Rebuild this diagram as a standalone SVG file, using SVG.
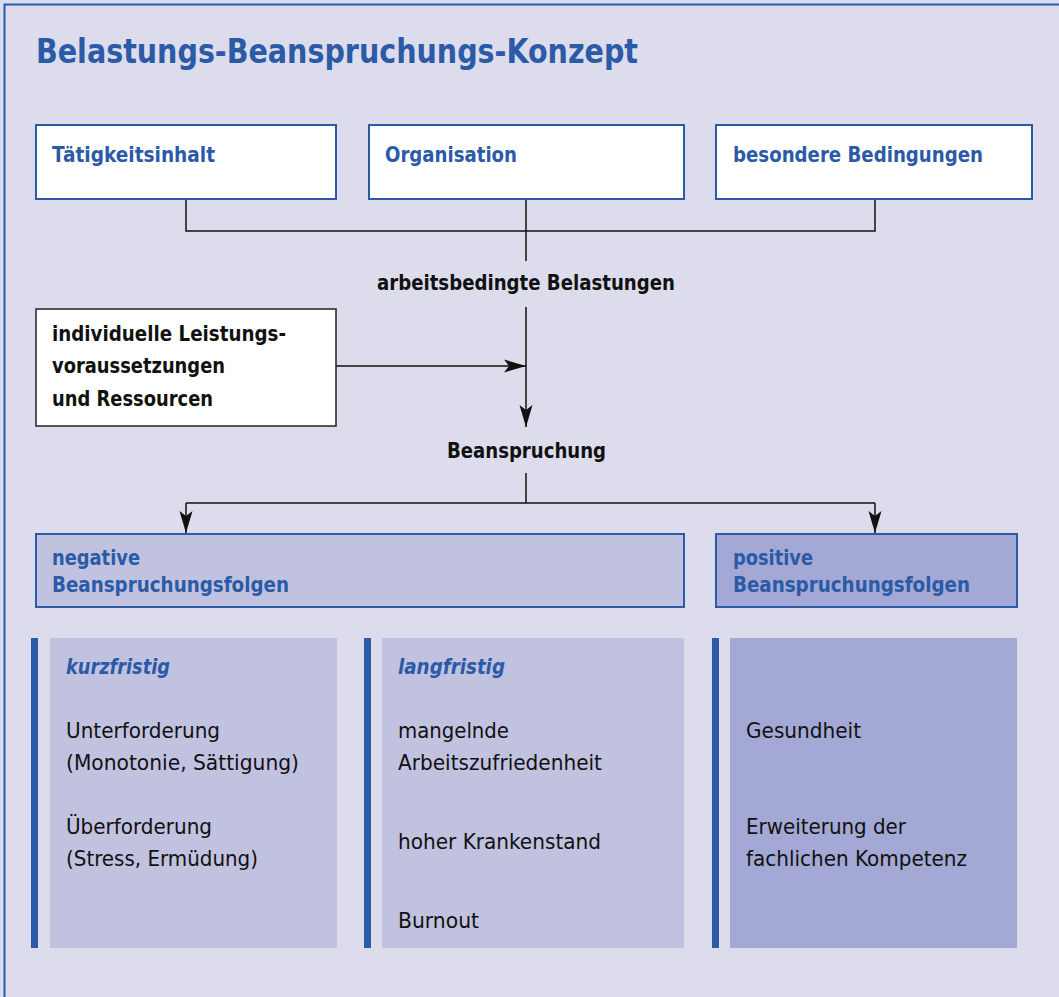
<svg xmlns="http://www.w3.org/2000/svg" width="1059" height="997" viewBox="0 0 1059 997">
<defs>
<style>
.t{font-family:"DejaVu Sans Condensed","DejaVu Sans",sans-serif;font-stretch:condensed}
.hb{font-weight:bold;fill:#2B5AA6;font-size:21px}
.kb{font-weight:bold;fill:#111;font-size:21px}
.bd{fill:#111;font-size:22px}
.it{font-weight:bold;font-style:italic;fill:#2B5AA6;font-size:22px}
.wbox{fill:#fff;stroke:#2B5AA6;stroke-width:2}
.conn{fill:none;stroke:#111;stroke-width:1.5}
.bar{fill:#2B5AA6}
.mid{fill:#C1C2E0}
.dark{fill:#A3A8D4}
</style>
<marker id="ah" markerUnits="userSpaceOnUse" markerWidth="24" markerHeight="14" refX="22" refY="7" orient="auto">
<path d="M0,0.5 L22,7 L0,13.5 L5,7 z" fill="#111"/>
</marker>
</defs>
<rect x="0" y="0" width="1059" height="997" fill="#DCDCEC"/>
<rect x="4.5" y="4.5" width="1200" height="1200" fill="none" stroke="#2B5AA6" stroke-width="2"/>
<text class="t" x="36" y="63" font-size="34" font-weight="bold" fill="#2B5AA6" textLength="602" lengthAdjust="spacingAndGlyphs">Belastungs-Beanspruchungs-Konzept</text>

<g id="connectors">
<path class="conn" d="M186,199 V231 H875 V199"/>
<path class="conn" d="M526,199 V261"/>
<path class="conn" d="M526,307 V427" marker-end="url(#ah)"/>
<path class="conn" d="M336,366 H526" marker-end="url(#ah)"/>
<path class="conn" d="M526,473 V503"/>
<path class="conn" d="M186,503 H875"/>
<path class="conn" d="M186,503 V533" marker-end="url(#ah)"/>
<path class="conn" d="M875,503 V533" marker-end="url(#ah)"/>
</g>

<g id="taetigkeitsinhalt">
<rect class="wbox" x="36" y="125" width="300" height="74"/>
<text class="t hb" x="52" y="162" textLength="163" lengthAdjust="spacingAndGlyphs">Tätigkeitsinhalt</text>
</g>
<g id="organisation">
<rect class="wbox" x="369" y="125" width="315" height="74"/>
<text class="t hb" x="385" y="162" textLength="132" lengthAdjust="spacingAndGlyphs">Organisation</text>
</g>
<g id="bedingungen">
<rect class="wbox" x="716" y="125" width="316" height="74"/>
<text class="t hb" x="733" y="162" textLength="250" lengthAdjust="spacingAndGlyphs">besondere Bedingungen</text>
</g>

<g id="belastungen">
<text class="t kb" x="377" y="290" textLength="298" lengthAdjust="spacingAndGlyphs">arbeitsbedingte Belastungen</text>
</g>

<g id="leistungsvoraussetzungen">
<rect x="36" y="309" width="300" height="117" fill="#fff" stroke="#222" stroke-width="1.5"/>
<text class="t kb" x="52" y="341" textLength="234" lengthAdjust="spacingAndGlyphs">individuelle Leistungs-</text>
<text class="t kb" x="52" y="373" textLength="173" lengthAdjust="spacingAndGlyphs">voraussetzungen</text>
<text class="t kb" x="52" y="406" textLength="161" lengthAdjust="spacingAndGlyphs">und Ressourcen</text>
</g>

<g id="beanspruchung">
<text class="t kb" x="447" y="458" textLength="159" lengthAdjust="spacingAndGlyphs">Beanspruchung</text>
</g>

<g id="negative">
<rect x="36" y="534" width="648" height="73" fill="#C1C2E0" stroke="#2B5AA6" stroke-width="2"/>
<text class="t hb" x="52" y="565" textLength="88" lengthAdjust="spacingAndGlyphs">negative</text>
<text class="t hb" x="52" y="592" textLength="237" lengthAdjust="spacingAndGlyphs">Beanspruchungsfolgen</text>
</g>
<g id="positive">
<rect x="716" y="534" width="301" height="73" fill="#A3A8D4" stroke="#2B5AA6" stroke-width="2"/>
<text class="t hb" x="733" y="565" textLength="80" lengthAdjust="spacingAndGlyphs">positive</text>
<text class="t hb" x="733" y="592" textLength="237" lengthAdjust="spacingAndGlyphs">Beanspruchungsfolgen</text>
</g>

<g id="kurzfristig">
<rect class="bar" x="31" y="638" width="7" height="310"/>
<rect class="mid" x="50" y="638" width="287" height="310"/>
<text class="t it" x="66" y="674" textLength="104" lengthAdjust="spacingAndGlyphs">kurzfristig</text>
<text class="t bd" x="66" y="738" textLength="154" lengthAdjust="spacingAndGlyphs">Unterforderung</text>
<text class="t bd" x="66" y="770" textLength="233" lengthAdjust="spacingAndGlyphs">(Monotonie, Sättigung)</text>
<text class="t bd" x="66" y="834" textLength="146" lengthAdjust="spacingAndGlyphs">Überforderung</text>
<text class="t bd" x="66" y="866" textLength="192" lengthAdjust="spacingAndGlyphs">(Stress, Ermüdung)</text>
</g>

<g id="langfristig">
<rect class="bar" x="364" y="638" width="7" height="310"/>
<rect class="mid" x="382" y="638" width="302" height="310"/>
<text class="t it" x="398" y="674" textLength="107" lengthAdjust="spacingAndGlyphs">langfristig</text>
<text class="t bd" x="398" y="738" textLength="111" lengthAdjust="spacingAndGlyphs">mangelnde</text>
<text class="t bd" x="398" y="770" textLength="204" lengthAdjust="spacingAndGlyphs">Arbeitszufriedenheit</text>
<text class="t bd" x="398" y="849" textLength="203" lengthAdjust="spacingAndGlyphs">hoher Krankenstand</text>
<text class="t bd" x="398" y="928" textLength="81" lengthAdjust="spacingAndGlyphs">Burnout</text>
</g>

<g id="positiv-folgen">
<rect class="bar" x="712" y="638" width="7" height="310"/>
<rect class="dark" x="730" y="638" width="287" height="310"/>
<text class="t bd" x="746" y="738" textLength="115" lengthAdjust="spacingAndGlyphs">Gesundheit</text>
<text class="t bd" x="746" y="834" textLength="160" lengthAdjust="spacingAndGlyphs">Erweiterung der</text>
<text class="t bd" x="746" y="866" textLength="221" lengthAdjust="spacingAndGlyphs">fachlichen Kompetenz</text>
</g>
</svg>
